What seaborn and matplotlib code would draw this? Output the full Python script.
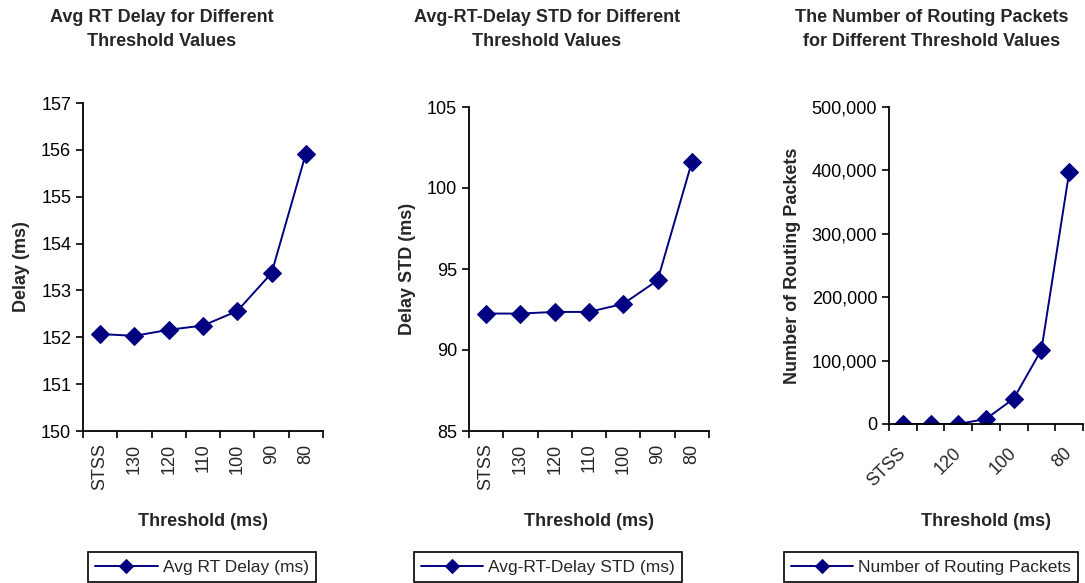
import numpy as np
import pandas as pd
import seaborn as sns
import matplotlib.pyplot as plt
from matplotlib.ticker import FuncFormatter, FixedLocator
from matplotlib import font_manager

thresholds = ["STSS", "130", "120", "110", "100", "90", "80"]
avg_delay = [152.07, 152.03, 152.16, 152.25, 152.56, 153.37, 155.92]
delay_std = [92.25, 92.25, 92.35, 92.35, 92.85, 94.3, 101.6]
routing_packets = [0, 0, 0, 8000, 40000, 117000, 397000]

sns.set_style("ticks")
plt.rcParams['font.family'] = ['Liberation Sans', 'DejaVu Sans']
names = {f.name for f in font_manager.fontManager.ttflist}
legend_font = 'Liberation Sans Narrow' if 'Liberation Sans Narrow' in names else 'Liberation Sans'

navy = '#000080'
fs = 13
fig = plt.figure(figsize=(10.85, 5.83), dpi=100)
W, H = 1085, 583

def px_axes(l, t, r, b):
    return fig.add_axes([l / W, 1 - b / H, (r - l) / W, (b - t) / H])

panels = [
    dict(box=(83, 103, 323, 431), vals=avg_delay, ylim=(150, 157), yticks=np.arange(150, 158, 1),
         ylabel="Delay (ms)", title="Avg RT Delay for Different\nThreshold Values", tx=162,
         legend="Avg RT Delay (ms)", lx=202, rot=90, every=1, fmt=None),
    dict(box=(469, 107, 709, 431), vals=delay_std, ylim=(85, 105), yticks=np.arange(85, 106, 5),
         ylabel="Delay STD (ms)", title="Avg-RT-Delay STD for Different\nThreshold Values", tx=547,
         legend="Avg-RT-Delay STD (ms)", lx=548, rot=90, every=1, fmt=None),
    dict(box=(889, 107, 1083, 424), vals=routing_packets, ylim=(0, 500000), yticks=np.arange(0, 500001, 100000),
         ylabel="Number of Routing Packets", title="The Number of Routing Packets\nfor Different Threshold Values", tx=932,
         legend="Number of Routing Packets", lx=931, rot=45, every=2, fmt="comma"),
]

for p in panels:
    ax = px_axes(*p["box"])
    df = pd.DataFrame({"x": np.arange(len(thresholds)), "y": p["vals"]})
    sns.lineplot(data=df, x="x", y="y", ax=ax, color=navy, marker="D", markersize=9,
                 markeredgecolor=navy, linewidth=1.4, label=p["legend"], legend=False)
    ax.set_xlim(-0.5, len(thresholds) - 0.5)
    ax.set_ylim(*p["ylim"])
    ax.set_yticks(p["yticks"])
    if p["fmt"] == "comma":
        ax.yaxis.set_major_formatter(FuncFormatter(lambda v, _: f"{int(v):,}"))
    # boundary ticks between categories, labels at centres
    ax.xaxis.set_major_locator(FixedLocator(np.arange(-0.5, len(thresholds), 1)))
    ax.set_xticklabels([])
    centres = np.arange(0, len(thresholds), p["every"])
    ax.xaxis.set_minor_locator(FixedLocator(centres))
    if p["rot"] == 90:
        ax.set_xticklabels([thresholds[i] for i in centres], minor=True, rotation=90, va="top")
        pad = 9
    else:
        ax.set_xticklabels([thresholds[i] for i in centres], minor=True, rotation=45,
                           ha="right", va="center", rotation_mode="anchor")
        pad = 19
    ax.tick_params(axis="x", which="minor", length=0, pad=pad, labelsize=fs)
    ax.tick_params(axis="both", which="major", direction="out", length=5, width=1.2,
                   color="black", labelsize=fs, labelcolor="black")
    for s in ["top", "right"]:
        ax.spines[s].set_visible(False)
    for s in ["left", "bottom"]:
        ax.spines[s].set_color("black")
        ax.spines[s].set_linewidth(1.3)
    ax.set_xlabel("Threshold (ms)", fontsize=fs, fontweight="bold")
    ax.xaxis.set_label_coords(0.5, -(513 - p["box"][3]) / (p["box"][3] - p["box"][1]))
    ax.set_ylabel(p["ylabel"], fontsize=fs, fontweight="bold", labelpad=8)
    fig.text(p["tx"] / W, 1 - 9 / H, p["title"], ha="center", va="top",
             fontsize=fs, fontweight="bold", linespacing=1.5)
    handles, labels = ax.get_legend_handles_labels()
    leg = fig.legend(handles, labels, loc="center", bbox_to_anchor=(p["lx"] / W, 1 - 567 / H),
                     frameon=True, fancybox=False, edgecolor="black", framealpha=1,
                     prop={"family": legend_font, "size": 12.5}, handlelength=3.6, markerscale=0.8,
                     borderpad=0.4, handletextpad=0.3, borderaxespad=0)
    leg.get_frame().set_linewidth(1.2)

fig.savefig("out.png", dpi=100, facecolor="white")
